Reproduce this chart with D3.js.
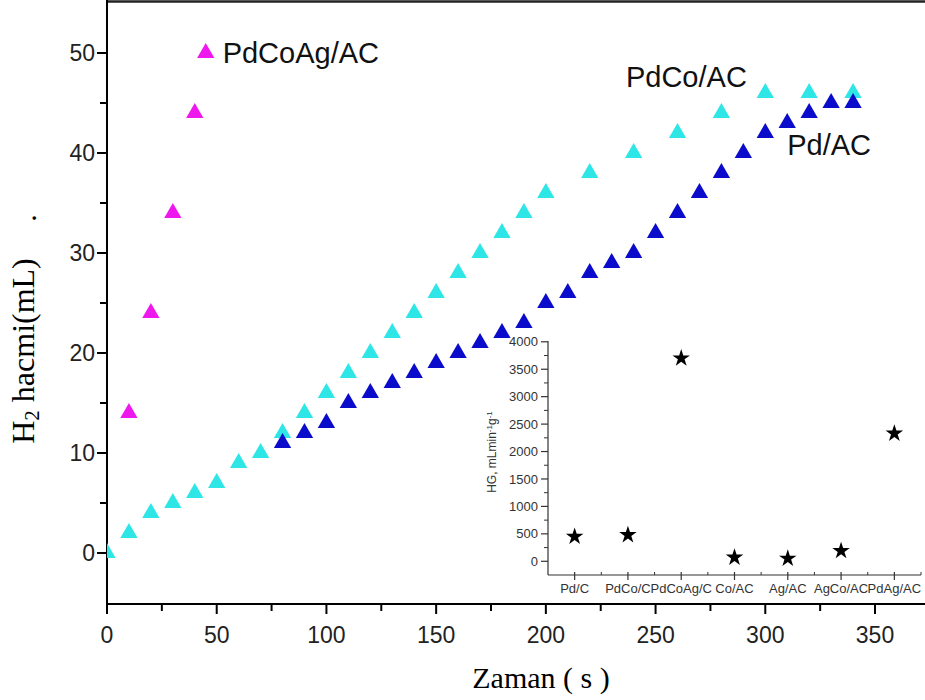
<!DOCTYPE html>
<html><head><meta charset="utf-8">
<script src="https://cdn.jsdelivr.net/npm/d3@7"></script>
<style>html,body{margin:0;padding:0;background:#fff;}svg{display:block;}</style>
</head><body>
<svg id="chart" width="925" height="700"></svg>
<script>
// ---- main chart data ----
const pdcoTime = [0,10,20,30,40,50,60,70,80,90,100,110,120,130,140,150,160,170,180,190,200,220,240,260,280,300,320,340];
const pdcoVol  = [0,2,4,5,6,7,9,10,12,14,16,18,20,22,24,26,28,30,32,34,36,38,40,42,44,46,46,46];
const pdTime = [80,90,100,110,120,130,140,150,160,170,180,190,200,210,220,230,240,250,260,270,280,290,300,310,320,330,340];
const pdVol  = [11,12,13,15,16,17,18,19,20,21,22,23,25,26,28,29,30,32,34,36,38,40,42,43,44,45,45];
const pdcoagTime = [10,20,30,40,45];
const pdcoagVol  = [14,24,34,44,50];
const xTicks = [0,50,100,150,200,250,300,350];
const yTicks = [0,10,20,30,40,50];
// ---- inset data ----
const insetCats = ["Pd/C","PdCo/C","PdCoAg/C","Co/AC","Ag/AC","AgCo/AC","PdAg/AC"];
const insetHG   = [450,480,3700,70,50,190,2330];
const insetYTicks = [0,500,1000,1500,2000,2500,3000,3500,4000];

const svg = d3.select("#chart");
const sans = "'Liberation Sans', Arial, sans-serif";
const serif = "'Liberation Serif', 'Times New Roman', serif";

const x = d3.scaleLinear().domain([0,350]).range([107,875]);
const y = d3.scaleLinear().domain([-5,55]).range([603,3]);
const xRight = 925;

svg.append("defs").append("clipPath").attr("id","clip")
  .append("rect").attr("x",107).attr("y",0).attr("width",xRight-107).attr("height",604);

// top border
svg.append("line").attr("x1",107).attr("x2",xRight).attr("y1",1.5).attr("y2",1.5)
  .attr("stroke","#222").attr("stroke-width",2.5);

// x axis
const xAx = svg.append("g").attr("transform","translate(0,604)");
xAx.append("line").attr("x1",106).attr("x2",xRight).attr("stroke","#000").attr("stroke-width",2);
xAx.selectAll(".maj").data(xTicks).join("line").attr("x1",d=>x(d)).attr("x2",d=>x(d)).attr("y1",0).attr("y2",10).attr("stroke","#000").attr("stroke-width",2);
xAx.selectAll(".min").data(d3.range(25,380,50).filter(v=>x(v)<xRight)).join("line").attr("class","min").attr("x1",d=>x(d)).attr("x2",d=>x(d)).attr("y1",0).attr("y2",7).attr("stroke","#000").attr("stroke-width",2);
xAx.selectAll("text").data(xTicks).join("text").attr("x",d=>x(d)).attr("y",39).attr("text-anchor","middle")
  .attr("font-family",sans).attr("font-size",23).attr("fill","#222").text(d=>d);

// y axis
const yAx = svg.append("g").attr("transform","translate(107,0)");
yAx.append("line").attr("y1",0).attr("y2",605).attr("stroke","#000").attr("stroke-width",2);
yAx.selectAll(".maj").data(yTicks).join("line").attr("class","maj").attr("x1",-10).attr("x2",0).attr("y1",d=>y(d)).attr("y2",d=>y(d)).attr("stroke","#000").attr("stroke-width",2);
yAx.selectAll(".min").data([5,15,25,35,45]).join("line").attr("class","min").attr("x1",-7).attr("x2",0).attr("y1",d=>y(d)).attr("y2",d=>y(d)).attr("stroke","#000").attr("stroke-width",2);
yAx.selectAll("text").data(yTicks).join("text").attr("x",-12).attr("y",d=>y(d)).attr("dy","0.34em").attr("text-anchor","end")
  .attr("font-family",sans).attr("font-size",23).attr("fill","#222").text(d=>d);

// axis titles
svg.append("text").attr("x",541).attr("y",688).attr("text-anchor","middle").attr("font-family",serif).attr("font-size",30).attr("fill","#000").text("Zaman ( s )");
const yt = svg.append("text").attr("transform","translate(34,351) rotate(-90)").attr("text-anchor","middle")
  .attr("font-family",serif).attr("font-size",32).attr("fill","#000");
yt.append("tspan").text("H");
yt.append("tspan").attr("font-size",21).attr("dy",5).text("2");
yt.append("tspan").attr("dy",-5).text(" hacmi(mL)");
svg.append("text").attr("transform","translate(36,218) rotate(-90)").attr("text-anchor","middle")
  .attr("font-family",serif).attr("font-size",30).attr("fill","#000").text(".");

// series
const tri = d3.symbol().type(d3.symbolTriangle).size(130);
const plot = svg.append("g").attr("clip-path","url(#clip)");
function series(tx, vy, color){
  plot.append("g").selectAll("path").data(tx.map((t,i)=>[t,vy[i]])).join("path")
    .attr("d",tri).attr("transform",d=>`translate(${x(d[0])},${y(d[1])})`).attr("fill",color);
}
series(pdcoTime, pdcoVol, "#2ee6e6");
series(pdTime, pdVol, "#0b0bcc");
series(pdcoagTime, pdcoagVol, "#ee18ee");

// labels
function lab(t, xv, yv){
  svg.append("text").attr("x",x(xv)).attr("y",y(yv)).attr("font-family",sans).attr("font-size",29).attr("fill","#111").text(t);
}
lab("PdCoAg/AC", 52.7, 49);
lab("PdCo/AC", 236.5, 46.6);
lab("Pd/AC", 310, 39.8);

// ---- inset ----
const ix = d3.scaleLinear().domain([0.5,7.5]).range([548,921]);
const iy = d3.scaleLinear().domain([-250,4000]).range([575,341.8]);
const inset = svg.append("g");
inset.append("line").attr("x1",548).attr("x2",921).attr("y1",575).attr("y2",575).attr("stroke","#333").attr("stroke-width",1.2);
inset.append("line").attr("x1",548).attr("x2",548).attr("y1",341).attr("y2",575).attr("stroke","#333").attr("stroke-width",1.2);
inset.selectAll(".iymaj").data(insetYTicks).join("line").attr("class","iymaj").attr("x1",541).attr("x2",548).attr("y1",d=>iy(d)).attr("y2",d=>iy(d)).attr("stroke","#333").attr("stroke-width",1.2);
inset.selectAll(".iymin").data(d3.range(250,4000,500)).join("line").attr("class","iymin").attr("x1",544).attr("x2",548).attr("y1",d=>iy(d)).attr("y2",d=>iy(d)).attr("stroke","#333").attr("stroke-width",1);
inset.selectAll(".iyl").data(insetYTicks).join("text").attr("class","iyl").attr("x",538).attr("y",d=>iy(d)).attr("dy","0.35em").attr("text-anchor","end")
  .attr("font-family",sans).attr("font-size",13).attr("fill","#333").text(d=>d);
inset.selectAll(".ixmaj").data(insetCats).join("line").attr("class","ixmaj").attr("x1",(d,i)=>ix(i+1)).attr("x2",(d,i)=>ix(i+1)).attr("y1",572).attr("y2",580).attr("stroke","#333").attr("stroke-width",1.2);
inset.selectAll(".ixmin").data(d3.range(1.5,8,1)).join("line").attr("class","ixmin").attr("x1",d=>ix(d)).attr("x2",d=>ix(d)).attr("y1",572).attr("y2",575).attr("stroke","#333").attr("stroke-width",1);
inset.selectAll(".ixl").data(insetCats).join("text").attr("class","ixl").attr("x",(d,i)=>ix(i+1)).attr("y",593).attr("text-anchor","middle")
  .attr("font-family",sans).attr("font-size",13).attr("fill","#333").text(d=>d);
const it = inset.append("text").attr("transform","translate(496,452) rotate(-90)").attr("text-anchor","middle")
  .attr("font-family",sans).attr("font-size",12).attr("fill","#333");
it.append("tspan").text("HG, mLmin");
it.append("tspan").attr("font-size",8).attr("dy",-4).text("-1");
it.append("tspan").attr("dy",4).text("g");
it.append("tspan").attr("font-size",8).attr("dy",-4).text("-1");
const star = d3.symbol().type(d3.symbolStar).size(95);
inset.selectAll(".st").data(insetHG).join("path").attr("class","st").attr("d",star)
  .attr("transform",(d,i)=>`translate(${ix(i+1)},${iy(d)})`).attr("fill","#000");
</script>
</body></html>
